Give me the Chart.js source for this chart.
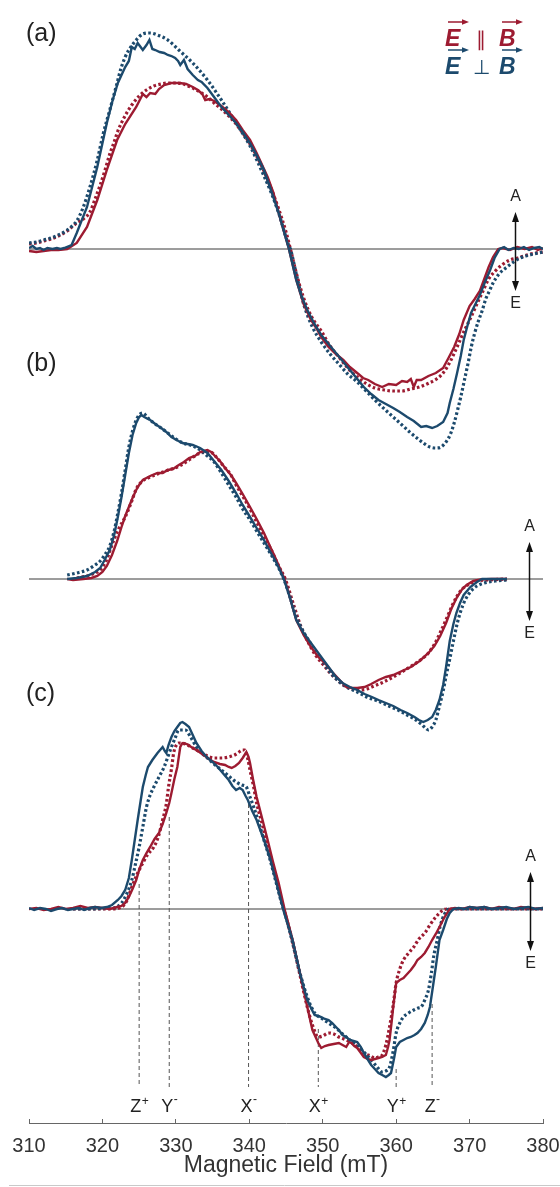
<!DOCTYPE html>
<html><head><meta charset="utf-8">
<script src="https://cdn.jsdelivr.net/npm/chart.js@4.4.0/dist/chart.umd.min.js"></script>
<style>html,body{margin:0;padding:0;background:#fff;}#wrap{width:560px;height:1187px;position:relative;}</style>
</head><body><div id="wrap"><canvas id="c" width="560" height="1187"></canvas></div>
<script>
// ---------- data (magnetic field in mT, intensity in a.u.) ----------
const xTickValues = [310, 320, 330, 340, 350, 360, 370, 380];
const axisTitle = 'Magnetic Field (mT)';
const panelTags = ['(a)', '(b)', '(c)'];

// panel (a)
const aParSolid = [[310,-0.02],[311,-0.03],[312,-0.02],[313,-0.01],[314,-0.01],[315.2,0],[316.5,0.06],[317.9,0.22],[319.3,0.49],[320.6,0.79],[322,1.09],[323.1,1.25],[324.6,1.42],[325.5,1.55],[326,1.52],[326.5,1.56],[327.2,1.55],[327.7,1.6],[328.4,1.64],[329.4,1.66],[330.5,1.66],[331.4,1.65],[332.3,1.62],[333,1.59],[333.6,1.55],[334,1.49],[334.6,1.5],[335.2,1.48],[336.2,1.43],[337.2,1.37],[338.2,1.29],[339.1,1.19],[340.1,1.09],[341,0.96],[342.5,0.72],[343.3,0.56],[344,0.36],[345.4,0],[346.4,-0.31],[347.4,-0.55],[348.4,-0.71],[349.2,-0.8],[349.8,-0.88],[350.8,-0.98],[351.8,-1.05],[352.8,-1.11],[353.7,-1.18],[354.7,-1.24],[355.5,-1.29],[356.2,-1.31],[357.1,-1.35],[358.1,-1.38],[359,-1.35],[360,-1.36],[360.8,-1.32],[361.5,-1.33],[362,-1.3],[362.4,-1.38],[362.8,-1.31],[363.4,-1.31],[364.4,-1.27],[365.4,-1.24],[366.4,-1.19],[367.2,-1.08],[367.9,-0.98],[368.6,-0.85],[369.2,-0.71],[370,-0.57],[370.7,-0.5],[371.4,-0.42],[372,-0.3],[372.6,-0.18],[373.2,-0.08],[373.9,0],[374.5,0.01],[375.5,-0.01],[376.5,0.02],[377.5,0],[378.5,0.02],[379.3,-0.01],[380,0.01]];
const aParFit = [[310,0.05],[311,0.06],[312,0.08],[313,0.1],[314,0.13],[315.2,0.18],[316.5,0.26],[317.4,0.3],[318.3,0.37],[319,0.5],[319.7,0.64],[320.4,0.8],[321,0.95],[321.6,1.07],[322.1,1.18],[323,1.32],[324,1.44],[325,1.53],[326,1.59],[327,1.63],[328,1.65],[329,1.66],[330,1.66],[331,1.65],[332,1.62],[333.3,1.57],[334.3,1.52],[335.2,1.46],[336.2,1.4],[337.2,1.33],[338.2,1.25],[339.1,1.16],[340.1,1.05],[341,0.93],[342,0.78],[343,0.6],[344,0.4],[345,0.17],[345.6,0],[346.4,-0.24],[347.4,-0.49],[348.5,-0.68],[349.8,-0.82],[351,-0.97],[352.2,-1.08],[353.4,-1.19],[354.7,-1.28],[356,-1.35],[357.1,-1.39],[358.4,-1.41],[359.6,-1.42],[360.8,-1.42],[362,-1.4],[363.2,-1.38],[364.5,-1.34],[365.5,-1.3],[366.4,-1.24],[367.4,-1.12],[368.3,-0.98],[369.2,-0.83],[370.2,-0.68],[371,-0.55],[371.7,-0.44],[372.6,-0.3],[373.5,-0.22],[374.4,-0.16],[375.5,-0.11],[376.6,-0.09],[377.8,-0.06],[379,-0.04],[380,-0.03]];
const aPerpSolid = [[310,0.01],[310.5,0.03],[311,0],[311.5,0.01],[312,-0.01],[312.5,0.01],[313.2,0],[313.8,0.01],[314.3,0],[314.8,0.01],[315.8,0.04],[316.5,0.16],[317.9,0.42],[319.3,0.82],[320.6,1.26],[321.4,1.49],[322.1,1.66],[323.1,1.82],[323.6,1.88],[324,2.02],[324.4,2],[324.8,2.06],[325.2,2.02],[325.5,1.99],[326,2.04],[326.4,2.09],[326.8,2],[327.2,1.99],[327.8,1.97],[328.4,1.96],[328.9,1.94],[329.4,1.93],[329.9,1.91],[330.3,1.88],[330.6,1.84],[331.1,1.89],[331.6,1.8],[332.3,1.74],[333,1.69],[333.5,1.67],[334.3,1.61],[335.2,1.52],[336.2,1.42],[337.2,1.34],[338.2,1.26],[339.1,1.17],[340.1,1.06],[341,0.94],[342,0.79],[343,0.58],[344,0.36],[345.4,0],[346.4,-0.31],[347.1,-0.47],[347.9,-0.61],[348.8,-0.74],[349.8,-0.86],[350.8,-0.95],[351.8,-1.04],[352.7,-1.12],[353.7,-1.21],[354.6,-1.29],[355.6,-1.38],[356.6,-1.45],[357.6,-1.51],[358.6,-1.55],[359.6,-1.59],[360.5,-1.63],[361.5,-1.68],[362.4,-1.72],[363.4,-1.78],[364.1,-1.77],[364.9,-1.79],[365.6,-1.77],[366.4,-1.73],[367,-1.64],[367.3,-1.54],[367.8,-1.4],[368.3,-1.24],[368.8,-1.07],[369.2,-0.91],[369.7,-0.77],[370.2,-0.64],[370.8,-0.55],[371.4,-0.46],[372.1,-0.33],[372.8,-0.21],[373.4,-0.09],[374.1,0],[374.7,0.02],[375.3,-0.01],[376,0.01],[376.7,0],[377.4,0.02],[378.1,-0.01],[378.8,0.01],[379.5,0.02],[380,0]];
const aPerpFit = [[310,0.06],[311,0.07],[312,0.09],[313,0.11],[314,0.14],[315.2,0.19],[316,0.24],[316.5,0.28],[317.4,0.42],[318.3,0.62],[319.3,0.89],[320.1,1.15],[321,1.39],[322,1.66],[322.5,1.8],[323.1,1.92],[323.6,1.99],[324.6,2.09],[325.5,2.15],[326.5,2.16],[327.5,2.14],[328.9,2.09],[330.4,1.99],[332.3,1.86],[334.3,1.69],[336.2,1.49],[338.2,1.26],[340.1,1.03],[342,0.73],[343,0.56],[344,0.36],[345.4,0.03],[345.6,0],[346.4,-0.25],[347.4,-0.55],[348.6,-0.78],[349.8,-0.93],[351,-1.05],[352.2,-1.15],[353.4,-1.25],[354.7,-1.33],[355.9,-1.42],[357.1,-1.51],[358.4,-1.6],[359.6,-1.68],[360.8,-1.76],[362,-1.84],[363,-1.9],[363.9,-1.95],[364.6,-1.98],[365.4,-1.99],[366.1,-1.98],[366.8,-1.93],[367.4,-1.85],[367.9,-1.74],[368.4,-1.6],[368.8,-1.48],[369.3,-1.31],[369.8,-1.14],[370.2,-0.99],[370.7,-0.84],[371.2,-0.72],[371.7,-0.62],[372.2,-0.5],[372.7,-0.42],[373.2,-0.34],[374,-0.25],[375.1,-0.18],[376,-0.13],[376.9,-0.09],[378.2,-0.06],[380,-0.03]];

// panel (b)
const bParSolid = [[315.2,0],[316,-0.01],[317.4,0],[318.5,0.01],[319.3,0.03],[320,0.07],[320.6,0.13],[321.3,0.24],[322,0.38],[322.6,0.52],[323.1,0.63],[323.6,0.72],[324.1,0.81],[324.6,0.89],[325,0.94],[325.5,0.99],[326.5,1.03],[327.5,1.06],[328.2,1.06],[328.9,1.09],[329.6,1.1],[330.4,1.14],[331.1,1.17],[331.8,1.21],[332.6,1.23],[333.3,1.27],[333.8,1.28],[334.3,1.29],[334.8,1.27],[335.2,1.24],[336,1.18],[336.7,1.11],[337.5,1.04],[338.2,0.96],[339.1,0.85],[340.1,0.72],[341,0.6],[342,0.46],[342.8,0.33],[343.5,0.22],[344.2,0.1],[344.8,0],[345.4,-0.15],[346.4,-0.41],[347.4,-0.56],[348.4,-0.68],[349.4,-0.78],[350.3,-0.84],[351.3,-0.93],[352.3,-1.01],[353.2,-1.08],[354,-1.09],[354.7,-1.09],[355.7,-1.08],[356.6,-1.05],[357.6,-1.01],[358.6,-0.98],[359.6,-0.96],[360.8,-0.92],[362,-0.88],[363.2,-0.82],[364.4,-0.74],[365.2,-0.67],[366,-0.57],[366.8,-0.44],[367.5,-0.3],[368.3,-0.18],[369,-0.1],[369.6,-0.06],[370.5,-0.02],[371.5,-0.005],[373,0],[375.1,0]];
const bParFit = [[316.5,0.01],[317.9,0.03],[319,0.06],[319.7,0.09],[320.5,0.18],[321.4,0.36],[322.2,0.5],[323.1,0.62],[324,0.78],[324.6,0.9],[325.3,0.97],[326.5,1.02],[327.5,1.05],[329,1.09],[330.5,1.13],[332,1.2],[333,1.25],[334,1.27],[334.7,1.27],[335.5,1.22],[336.5,1.13],[337.5,1.04],[338.2,0.94],[339.1,0.83],[340.1,0.7],[341,0.57],[342,0.43],[343,0.29],[344,0.13],[344.9,0],[346,-0.25],[347,-0.47],[348,-0.63],[349,-0.76],[350,-0.85],[351,-0.94],[352,-1.01],[353,-1.07],[354,-1.1],[355,-1.11],[356,-1.1],[357,-1.07],[358,-1.04],[359.6,-0.98],[361,-0.92],[362.5,-0.85],[363.5,-0.8],[364.4,-0.74],[365.3,-0.64],[366.1,-0.52],[366.9,-0.39],[367.6,-0.27],[368.3,-0.17],[369,-0.1],[370,-0.05],[371,-0.02],[372.5,-0.01],[375.1,0]];
const bPerpSolid = [[315.2,0],[316.5,0.01],[317.9,0.03],[319,0.07],[319.7,0.11],[320.3,0.19],[321,0.29],[321.6,0.44],[322.1,0.62],[322.6,0.82],[323.1,1.04],[323.6,1.26],[324.1,1.44],[324.6,1.56],[325,1.62],[325.3,1.64],[325.7,1.62],[326.2,1.6],[326.5,1.59],[327.2,1.55],[328,1.51],[328.7,1.47],[329.4,1.42],[330.1,1.39],[330.9,1.36],[331.6,1.35],[332.3,1.34],[333.3,1.31],[334.3,1.26],[335.2,1.18],[336.2,1.09],[337.2,0.98],[338.2,0.86],[339.1,0.74],[340.1,0.62],[341,0.51],[342,0.39],[342.8,0.28],[343.5,0.19],[344.1,0.1],[344.7,0],[345.5,-0.18],[346.4,-0.41],[347.4,-0.54],[348.4,-0.64],[349.1,-0.71],[349.8,-0.78],[350.8,-0.88],[351.8,-0.98],[352.7,-1.04],[353.7,-1.08],[354.7,-1.11],[355.7,-1.15],[356.7,-1.18],[357.6,-1.21],[358.6,-1.24],[359.6,-1.27],[360.6,-1.31],[361.5,-1.34],[362.5,-1.38],[363.1,-1.41],[363.7,-1.43],[364.3,-1.41],[364.9,-1.38],[365.4,-1.31],[365.9,-1.21],[366.4,-1.06],[366.8,-0.88],[367.3,-0.62],[367.8,-0.45],[368.2,-0.34],[368.7,-0.24],[369.2,-0.16],[370.1,-0.08],[371,-0.03],[371.7,0],[373,0],[375.1,0]];
const bPerpFit = [[315.2,0.04],[316.5,0.06],[317.9,0.09],[318.8,0.13],[319.7,0.18],[320.4,0.25],[321,0.33],[321.6,0.48],[322.1,0.66],[322.6,0.86],[323.1,1.09],[323.6,1.32],[324.1,1.48],[324.6,1.59],[325,1.64],[325.5,1.66],[326.2,1.61],[327,1.56],[328,1.51],[328.9,1.46],[330,1.4],[331,1.36],[332.3,1.33],[333.3,1.29],[334.3,1.23],[335.2,1.17],[336.2,1.06],[337.2,0.94],[338.2,0.82],[339.1,0.7],[340.1,0.59],[341,0.48],[342,0.36],[343,0.24],[344,0.11],[344.7,0],[345.5,-0.17],[346.4,-0.38],[347.4,-0.53],[348.4,-0.65],[349.8,-0.8],[351,-0.93],[352.3,-1.03],[353.5,-1.09],[354.7,-1.13],[356,-1.18],[357.5,-1.22],[359,-1.27],[360.5,-1.32],[361.5,-1.36],[362.5,-1.4],[363.4,-1.45],[364,-1.49],[364.4,-1.51],[364.9,-1.48],[365.4,-1.41],[365.9,-1.27],[366.4,-1.12],[366.8,-0.97],[367.3,-0.8],[367.8,-0.62],[368.3,-0.45],[368.8,-0.32],[369.4,-0.21],[370.2,-0.12],[371,-0.07],[372,-0.04],[373.5,-0.02],[375.1,-0.01]];

// panel (c)
const cParSolid = [[310,0],[311,0.01],[312,-0.01],[313,0],[314,0.02],[315,0],[316,0.01],[317,0.03],[318,0.01],[319,0.02],[320,0.01],[321,0],[322,0.02],[322.6,0.03],[323.1,0.06],[323.6,0.12],[324.1,0.2],[324.6,0.29],[325,0.39],[325.5,0.49],[326,0.56],[326.5,0.62],[327.1,0.7],[327.7,0.76],[328.2,0.85],[328.7,0.96],[329.1,1.06],[329.4,1.16],[329.8,1.3],[330.2,1.42],[330.6,1.62],[330.9,1.66],[331.5,1.65],[332.3,1.61],[333,1.58],[333.8,1.54],[334.5,1.5],[335.2,1.47],[336,1.45],[336.7,1.44],[337.2,1.42],[337.6,1.41],[338.1,1.43],[338.6,1.46],[339.1,1.51],[339.6,1.57],[339.9,1.52],[340.1,1.46],[340.5,1.3],[341,1.12],[341.7,0.92],[342.5,0.69],[343.2,0.48],[344,0.26],[344.8,0],[345.9,-0.31],[346.9,-0.64],[347.9,-0.98],[348.6,-1.21],[349.4,-1.34],[349.8,-1.39],[350.3,-1.37],[350.8,-1.36],[351.5,-1.35],[352.2,-1.34],[352.7,-1.36],[353.2,-1.38],[353.6,-1.33],[353.9,-1.34],[354.3,-1.37],[354.7,-1.39],[355.2,-1.44],[355.6,-1.48],[356.1,-1.5],[356.6,-1.51],[357.1,-1.5],[357.6,-1.49],[358.1,-1.48],[358.6,-1.46],[358.9,-1.38],[359.1,-1.31],[359.4,-1.12],[359.6,-0.98],[360,-0.74],[360.5,-0.71],[361,-0.69],[361.5,-0.65],[362,-0.61],[362.5,-0.56],[362.9,-0.51],[363.4,-0.48],[363.9,-0.44],[364.4,-0.38],[364.9,-0.31],[365.4,-0.25],[365.9,-0.18],[366.6,-0.08],[367.3,0],[368,0.01],[369,0],[370,0.02],[371,0.01],[372,0.02],[373,0],[374,0.02],[375,0.01],[376,0],[377,0.02],[378,0.01],[379,0],[380,0.01]];
const cParFit = [[316,0],[321,0],[322.6,0.02],[323.3,0.08],[324,0.22],[324.8,0.36],[325.5,0.46],[326.2,0.55],[327,0.62],[327.6,0.72],[328.2,0.89],[328.7,1.05],[329,1.22],[329.4,1.4],[329.7,1.56],[330,1.63],[330.4,1.66],[331.3,1.65],[332.3,1.61],[333.3,1.57],[334.3,1.53],[335.2,1.51],[336.2,1.51],[337.2,1.52],[338,1.54],[338.6,1.57],[339.1,1.59],[339.4,1.59],[339.8,1.5],[340.1,1.39],[340.6,1.22],[341,1.06],[341.8,0.84],[342.5,0.62],[343.3,0.4],[344,0.2],[344.6,0.02],[345,-0.08],[345.9,-0.33],[346.9,-0.66],[347.9,-0.98],[348.6,-1.16],[349.4,-1.28],[350,-1.27],[350.8,-1.24],[351.5,-1.25],[352.2,-1.28],[353.2,-1.31],[354.2,-1.35],[355.6,-1.44],[356.5,-1.47],[357.1,-1.49],[357.6,-1.48],[358.1,-1.46],[358.6,-1.36],[359.1,-1.18],[359.6,-0.96],[360,-0.74],[360.5,-0.6],[361,-0.51],[361.7,-0.44],[362.4,-0.38],[363.1,-0.3],[363.9,-0.24],[364.6,-0.16],[365.4,-0.08],[366.4,-0.01],[367,0],[380,0]];
const cPerpSolid = [[310,0.01],[310.7,-0.01],[311.5,0.01],[312.3,0],[313,-0.02],[313.8,0],[314.5,0.01],[315.3,-0.01],[316,0],[316.8,0.01],[317.5,-0.01],[318.3,0.01],[319,0.02],[319.8,0.01],[320.6,0.02],[321.3,0.04],[322.1,0.09],[322.6,0.13],[323.1,0.19],[323.6,0.31],[324,0.49],[324.4,0.69],[324.8,0.89],[325.2,1.08],[325.5,1.22],[325.9,1.34],[326.2,1.42],[326.8,1.49],[327.5,1.56],[328.2,1.62],[328.5,1.58],[328.7,1.56],[329,1.64],[329.4,1.72],[329.8,1.78],[330.2,1.82],[330.6,1.86],[330.9,1.87],[331.3,1.85],[331.8,1.82],[332.3,1.74],[332.8,1.66],[333.5,1.58],[334.3,1.51],[335,1.47],[335.7,1.42],[336.5,1.35],[337.2,1.29],[337.7,1.23],[338.2,1.19],[338.7,1.21],[339.1,1.19],[339.5,1.13],[339.8,1.09],[340.4,0.98],[341,0.89],[342,0.69],[342.9,0.49],[343.7,0.26],[344.4,0.06],[344.8,-0.05],[345.9,-0.31],[346.9,-0.64],[347.4,-0.78],[347.9,-0.91],[348.4,-0.99],[348.9,-1.06],[349.4,-1.07],[349.8,-1.08],[350.3,-1.1],[350.8,-1.11],[351.3,-1.14],[351.8,-1.18],[352.2,-1.21],[352.7,-1.26],[353.2,-1.28],[353.7,-1.31],[354.2,-1.32],[354.7,-1.33],[355.2,-1.38],[355.6,-1.44],[356.1,-1.5],[356.6,-1.56],[357.1,-1.6],[357.6,-1.64],[358.1,-1.66],[358.6,-1.68],[359,-1.66],[359.3,-1.64],[359.7,-1.5],[360,-1.38],[360.5,-1.33],[361,-1.31],[361.5,-1.29],[362,-1.28],[362.5,-1.26],[362.9,-1.24],[363.4,-1.2],[363.9,-1.14],[364.3,-1.06],[364.6,-0.98],[365,-0.78],[365.4,-0.58],[365.9,-0.31],[366.4,-0.21],[366.9,-0.1],[367.3,-0.04],[367.8,0],[368.5,0.01],[369.3,0],[370,0.02],[371,0.01],[372,0.02],[373,0],[374,0.01],[375,0.02],[376,0],[377,0.01],[378,0.02],[379,0],[380,0.01]];
const cPerpFit = [[316,0],[321.5,0.01],[322.6,0.06],[323.3,0.15],[324,0.29],[324.5,0.45],[325,0.62],[325.5,0.82],[326,1.02],[326.5,1.14],[327,1.22],[327.7,1.32],[328.4,1.42],[328.9,1.52],[329.4,1.62],[329.9,1.71],[330.4,1.79],[331.3,1.79],[332,1.72],[332.8,1.62],[333.5,1.56],[334.3,1.51],[335.2,1.45],[336.2,1.39],[337.2,1.33],[338.2,1.27],[339,1.24],[339.6,1.22],[340.1,1.12],[340.6,1.02],[341.3,0.86],[342,0.69],[342.8,0.5],[343.6,0.28],[344.4,0.06],[345,-0.08],[345.9,-0.34],[346.9,-0.64],[347.9,-0.88],[348.9,-1.04],[349.8,-1.09],[350.8,-1.14],[351.8,-1.19],[352.7,-1.25],[353.7,-1.31],[354.7,-1.37],[355.6,-1.43],[356.6,-1.51],[357.3,-1.57],[358.1,-1.63],[358.6,-1.62],[359.1,-1.58],[359.6,-1.42],[360,-1.24],[360.5,-1.14],[361,-1.08],[361.7,-1.04],[362.4,-1.01],[363,-0.99],[363.4,-0.98],[363.9,-0.91],[364.4,-0.81],[364.8,-0.64],[365.1,-0.48],[365.6,-0.31],[366,-0.17],[366.6,-0.05],[367.2,0],[380,0]];

// canonical transition markers in panel (c)
const markerFields  = [325.0, 329.1, 339.9, 349.4, 360.0, 364.9];
const markerLetters = ['Z', 'Y', 'X', 'X', 'Y', 'Z'];
const markerSigns   = ['+', '-', '-', '+', '+', '-'];
const markerTops    = [0.25, 0.92, 1.05, -1.2, -1.6, -0.95];
const markerBottom  = -1.78;
const markerLabelLevel = -2.03;

// polarization arrows (field position per panel)
const aeArrowFields = [376.2, 378.1, 378.2];

// ---------- styling ----------
const RED = '#9d1b31', BLUE = '#1c4a6d';
const FONT = '"Liberation Sans", Arial, Helvetica, sans-serif';
const axisIds = ['ya', 'yb', 'yc'];
const panels = [
  [aPerpSolid, aParSolid, aPerpFit, aParFit],
  [bPerpSolid, bParSolid, bPerpFit, bParFit],
  [cPerpSolid, cParSolid, cPerpFit, cParFit]
];
const toPts = arr => arr.map(p => ({x: p[0], y: p[1]}));

const datasets = [];
panels.forEach((set, i) => {
  const ax = axisIds[i];
  const styles = [
    {c: BLUE, dash: [], w: 2.4},
    {c: RED, dash: [], w: 2.4},
    {c: BLUE, dash: [2.6, 2.4], w: 3.2},
    {c: RED, dash: [2.6, 2.4], w: 3.2}
  ];
  set.forEach((arr, k) => {
    datasets.push({
      data: toPts(arr), yAxisID: ax, borderColor: styles[k].c, borderWidth: styles[k].w,
      borderDash: styles[k].dash, pointRadius: 0, fill: false,
      tension: 0, cubicInterpolationMode: k >= 2 ? 'monotone' : 'default', borderCapStyle: 'butt'
    });
  });
});
markerFields.forEach((f, i) => {
  datasets.push({data: [{x: f, y: markerTops[i]}, {x: f, y: markerBottom}], yAxisID: 'yc',
    borderColor: '#555', borderWidth: 1, borderDash: [4, 3], pointRadius: 0, fill: false});
});
axisIds.forEach(ax => {
  datasets.push({data: [{x: xTickValues[0], y: 0}, {x: xTickValues[xTickValues.length - 1], y: 0}],
    yAxisID: ax, borderColor: '#3a3a3a', borderWidth: 1, pointRadius: 0, fill: false});
});

function arrowHead(ctx, x, y, dir) { // dir: -1 up, 1 down
  ctx.beginPath();
  ctx.moveTo(x, y);
  ctx.lineTo(x - 3.5, y - dir * 10);
  ctx.lineTo(x + 3.5, y - dir * 10);
  ctx.closePath();
  ctx.fill();
}
function rightHead(ctx, x, y) {
  ctx.beginPath();
  ctx.moveTo(x, y);
  ctx.lineTo(x - 7, y - 2.8);
  ctx.lineTo(x - 7, y + 2.8);
  ctx.closePath();
  ctx.fill();
}

const annot = {
  id: 'annot',
  afterDraw(chart) {
    const {ctx, scales} = chart;
    const xs = scales.x;
    ctx.save();
    // panel tags
    ctx.fillStyle = '#222';
    ctx.font = '25px ' + FONT;
    ctx.textAlign = 'left';
    ctx.textBaseline = 'middle';
    panelTags.forEach((t, i) => {
      const z = scales[axisIds[i]].getPixelForValue(0);
      ctx.fillText(t, xs.left - 3, z - 215);
    });
    // A / E arrows
    aeArrowFields.forEach((f, i) => {
      const z = scales[axisIds[i]].getPixelForValue(0);
      const x = Math.round(xs.getPixelForValue(f)) + 0.5;
      ctx.strokeStyle = '#111'; ctx.fillStyle = '#111'; ctx.lineWidth = 1.5;
      ctx.beginPath(); ctx.moveTo(x, z - 30); ctx.lineTo(x, z + 35); ctx.stroke();
      arrowHead(ctx, x, z - 37, -1);
      arrowHead(ctx, x, z + 42, 1);
      ctx.font = '16px ' + FONT; ctx.textAlign = 'center'; ctx.textBaseline = 'middle';
      ctx.fillStyle = '#222';
      ctx.fillText('A', x, z - 52);
      ctx.fillText('E', x, z + 55);
    });
    // marker labels
    const yc = scales.yc;
    const base = yc.getPixelForValue(markerLabelLevel);
    markerFields.forEach((f, i) => {
      const cx = xs.getPixelForValue(f);
      ctx.font = '18px ' + FONT;
      const w = ctx.measureText(markerLetters[i]).width;
      ctx.font = '12px ' + FONT;
      const sw = ctx.measureText(markerSigns[i]).width;
      const x0 = cx - (w + sw) / 2;
      ctx.fillStyle = '#222'; ctx.textAlign = 'left'; ctx.textBaseline = 'alphabetic';
      ctx.font = '18px ' + FONT;
      ctx.fillText(markerLetters[i], x0, base);
      ctx.font = '12px ' + FONT;
      ctx.fillText(markerSigns[i], x0 + w + 0.5, base - (markerSigns[i] === '+' ? 7 : 9));
    });
    // legend
    const rows = [
      {c: RED, sym: '\u2225', y: 46},
      {c: BLUE, sym: '\u22A5', y: 74}
    ];
    rows.forEach(r => {
      ctx.fillStyle = r.c; ctx.strokeStyle = r.c;
      ctx.textAlign = 'left'; ctx.textBaseline = 'alphabetic';
      ctx.font = 'italic bold 23px ' + FONT;
      ctx.fillText('E', 445, r.y);
      ctx.fillText('B', 499, r.y);
      ctx.font = '20px ' + FONT;
      ctx.textAlign = 'center';
      ctx.fillText(r.sym, 481, r.y);
      ctx.lineWidth = 1.5;
      [[448, 469], [502, 523]].forEach(([a, b]) => {
        const ay = r.y - 24;
        ctx.beginPath(); ctx.moveTo(a, ay); ctx.lineTo(b - 4, ay); ctx.stroke();
        rightHead(ctx, b, ay);
      });
    });
    // bottom rule of the figure
    ctx.strokeStyle = '#c9c9c9'; ctx.lineWidth = 1;
    ctx.beginPath(); ctx.moveTo(9, chart.height - 1.5); ctx.lineTo(chart.width, chart.height - 1.5); ctx.stroke();
    ctx.restore();
  }
};

new Chart(document.getElementById('c'), {
  type: 'line',
  data: {datasets},
  options: {
    responsive: false, animation: false, devicePixelRatio: 1,
    layout: {padding: {top: 19, left: 29, right: 17, bottom: 0}},
    plugins: {legend: {display: false}, tooltip: {enabled: false}},
    scales: {
      x: {
        type: 'linear', min: xTickValues[0], max: xTickValues[xTickValues.length - 1],
        afterBuildTicks: s => { s.ticks = xTickValues.map(v => ({value: v})); },
        afterFit: s => { s.height = 64; s.paddingLeft = 0; s.paddingRight = 0; },
        grid: {drawOnChartArea: false, drawTicks: true, tickLength: -4, color: '#666', lineWidth: 1},
        border: {display: true, color: '#666', width: 1},
        ticks: {padding: 15, color: '#333', font: {family: FONT, size: 20}, maxRotation: 0},
        title: {display: true, text: axisTitle, color: '#333', font: {family: FONT, size: 23}, padding: {top: 0, bottom: 8}}
      },
      ya: {type: 'linear', display: false, min: -8.74, max: 2.30},
      yb: {type: 'linear', display: false, min: -5.44, max: 5.60},
      yc: {type: 'linear', display: false, min: -2.14, max: 8.90}
    }
  },
  plugins: [annot]
});
</script></body></html>
